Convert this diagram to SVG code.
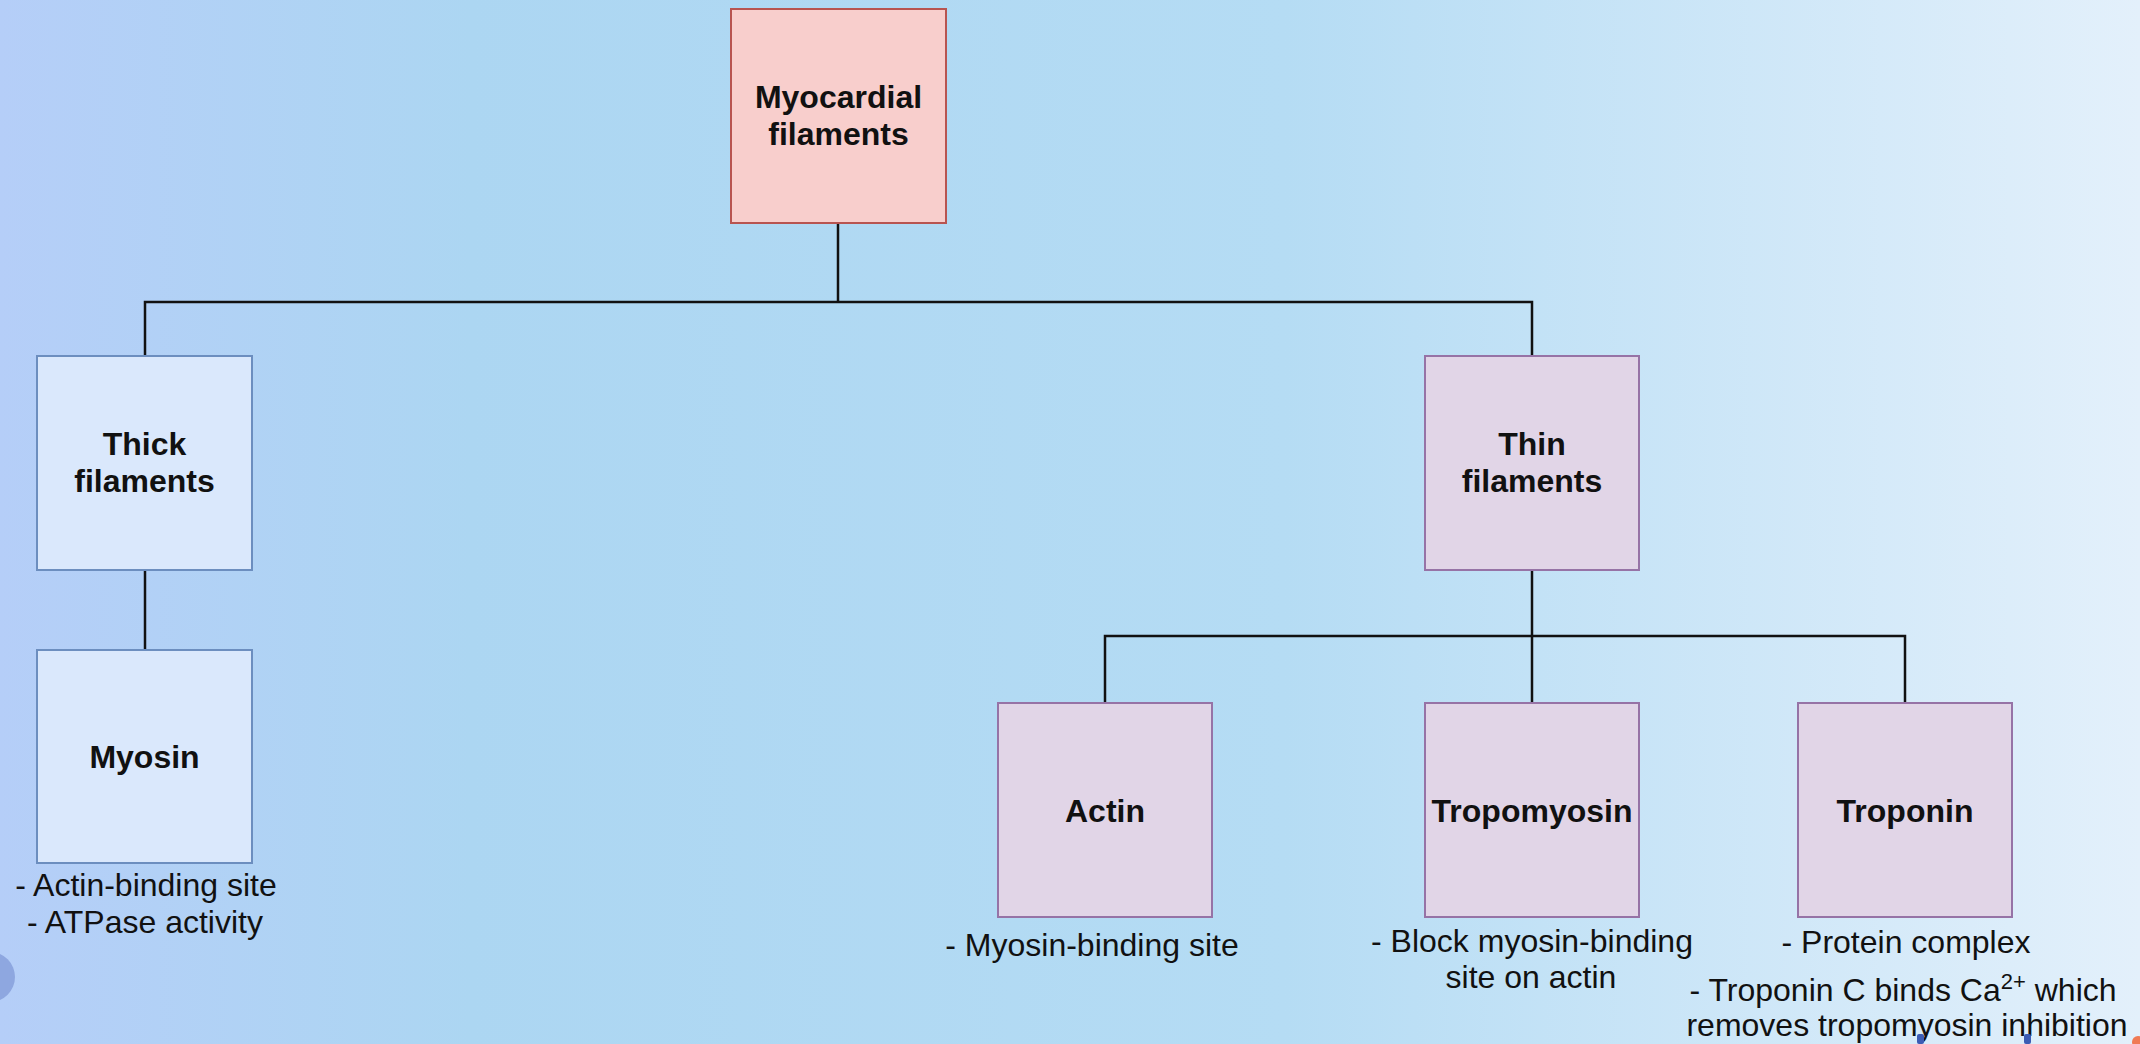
<svg xmlns="http://www.w3.org/2000/svg" width="2140" height="1044" viewBox="0 0 2140 1044">
  <defs>
    <linearGradient id="bg" x1="0" y1="0" x2="1" y2="0">
      <stop offset="0" stop-color="#b5cef8"/>
      <stop offset="0.22" stop-color="#acd6f2"/>
      <stop offset="0.6" stop-color="#b5dcf4"/>
      <stop offset="1" stop-color="#e3f0fb"/>
    </linearGradient>
    <style>
      .box { stroke-width: 2; }
      .red { fill: #f8cecc; stroke: #b85450; }
      .blue { fill: #dae8fc; stroke: #6c8ebf; }
      .purple { fill: #e1d5e7; stroke: #9673a6; }
      .title { font-family: "Liberation Sans", Arial, sans-serif; font-weight: bold; font-size: 32px; fill: #111; text-anchor: middle; }
      .note { font-family: "Liberation Sans", Arial, sans-serif; font-size: 32px; fill: #111; text-anchor: middle; }
      .link { fill: none; stroke: #111; stroke-width: 2.5; }
    </style>
  </defs>

  <!-- background -->
  <rect x="0" y="0" width="2140" height="1044" fill="url(#bg)"/>

  <!-- tree connectors -->
  <g id="connectors">
    <path class="link" d="M838 223 V302"/>
    <path class="link" d="M145 356 V302 H1532 V356"/>
    <path class="link" d="M145 570 V650"/>
    <path class="link" d="M1532 570 V703"/>
    <path class="link" d="M1105 703 V636 H1905 V703"/>
  </g>

  <g id="myocardial">
    <rect class="box red" x="731" y="9" width="215" height="214"/>
    <text class="title" x="838.5" y="108">Myocardial</text>
    <text class="title" x="838.5" y="145">filaments</text>
  </g>

  <g id="thick">
    <rect class="box blue" x="37" y="356" width="215" height="214"/>
    <text class="title" x="144.5" y="455">Thick</text>
    <text class="title" x="144.5" y="492">filaments</text>
  </g>

  <g id="myosin">
    <rect class="box blue" x="37" y="650" width="215" height="213"/>
    <text class="title" x="144.5" y="768">Myosin</text>
    <text class="note" x="146" y="896">- Actin-binding site</text>
    <text class="note" x="145" y="933">- ATPase activity</text>
  </g>

  <g id="thin">
    <rect class="box purple" x="1425" y="356" width="214" height="214"/>
    <text class="title" x="1532" y="455">Thin</text>
    <text class="title" x="1532" y="492">filaments</text>
  </g>

  <g id="actin">
    <rect class="box purple" x="998" y="703" width="214" height="214"/>
    <text class="title" x="1105" y="822">Actin</text>
    <text class="note" x="1092" y="956">- Myosin-binding site</text>
  </g>

  <g id="tropomyosin">
    <rect class="box purple" x="1425" y="703" width="214" height="214"/>
    <text class="title" x="1532" y="822">Tropomyosin</text>
    <text class="note" x="1532" y="952">- Block myosin-binding</text>
    <text class="note" x="1531" y="988">site on actin</text>
  </g>

  <g id="troponin">
    <rect class="box purple" x="1798" y="703" width="214" height="214"/>
    <text class="title" x="1905" y="822">Troponin</text>
    <text class="note" x="1906" y="953">- Protein complex</text>
    <text class="note" x="1903" y="1001">- Troponin C binds Ca<tspan font-size="22" dy="-12">2+</tspan><tspan dy="12"> which</tspan></text>
    <text class="note" x="1907" y="1036">removes tropomyosin inhibition</text>
  </g>

  <!-- screen overlay marks along the lower edge -->
  <g id="overlay">
    <circle cx="-10" cy="977" r="25" fill="#8ea7e0"/>
    <rect x="1917" y="1034" width="7" height="10" rx="2" fill="#3c5cb4"/>
    <rect x="2024" y="1034" width="7" height="10" rx="2" fill="#3c5cb4"/>
    <circle cx="2138" cy="1042" r="6" fill="#f07a55"/>
  </g>
</svg>
